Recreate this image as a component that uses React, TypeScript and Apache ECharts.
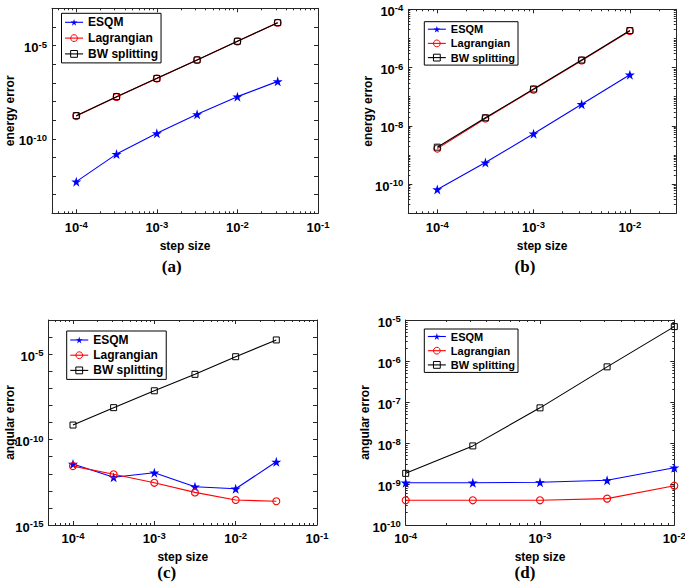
import React, { useEffect, useRef } from 'react';
import * as echarts from 'echarts';

// ---------- data ----------
const stepsAC = [1e-4, 3.16e-4, 1e-3, 3.16e-3, 1e-2, 3.16e-2];
const stepsBD = [1e-4, 3.16e-4, 1e-3, 3.16e-3, 1e-2];

const esqmA = [5.0e-13, 1.5e-11, 1.95e-10, 2.04e-9, 1.82e-8, 1.2e-7];
const lagA = [1.65e-9, 1.75e-8, 1.7e-7, 1.68e-6, 1.68e-5, 1.68e-4];
const bwA = [1.74e-9, 1.82e-8, 1.74e-7, 1.7e-6, 1.7e-5, 1.7e-4];

const esqmB = [6.6e-11, 5.5e-10, 5.4e-9, 5.5e-8, 5.7e-7];
const lagB = [1.66e-9, 1.8e-8, 1.75e-7, 1.75e-6, 1.8e-5];
const bwB = [1.86e-9, 1.9e-8, 1.84e-7, 1.82e-6, 1.86e-5];

const esqmC = [3.7e-12, 6.2e-13, 1.15e-12, 1.74e-13, 1.32e-13, 5.0e-12];
const lagC = [2.8e-12, 9.3e-13, 2.95e-13, 8.1e-14, 2.9e-14, 2.45e-14];
const bwC = [7.1e-10, 7.4e-9, 7.2e-8, 6.6e-7, 7.1e-6, 6.8e-5];

const esqmD = [1.07e-9, 1.07e-9, 1.1e-9, 1.23e-9, 2.5e-9];
const lagD = [4.0e-10, 4.0e-10, 4.0e-10, 4.4e-10, 9.1e-10];
const bwD = [1.82e-9, 8.5e-9, 7.2e-8, 7.2e-7, 6.9e-6];

const seriesNames = ['ESQM', 'Lagrangian', 'BW splitting'];
const xLabelExpA = [-4, -3, -2, -1];
const xLabelExpB = [-4, -3, -2];
const yLabelExpA = [-5, -10];
const yLabelExpB = [-4, -6, -8, -10];
const yLabelExpC = [-5, -10, -15];
const yLabelExpD = [-5, -6, -7, -8, -9, -10];
const panelTags = ['(a)', '(b)', '(c)', '(d)'];

// ---------- helpers ----------
const SANS = '"Liberation Sans", Arial, Helvetica, sans-serif';
const SERIF = '"Liberation Serif", "Times New Roman", serif';
const AX = '#262626';

const p10 = (e: number) => Number(`1e${e}`);
const decades = (lo: number, hi: number) => {
  const out: number[] = [];
  for (let e = Math.ceil(Math.log10(lo) - 1e-9); e <= Math.floor(Math.log10(hi) + 1e-9); e++) out.push(p10(e));
  return out;
};
const minors = (lo: number, hi: number) => {
  const out: number[] = [];
  for (let e = Math.floor(Math.log10(lo)) - 1; e <= Math.ceil(Math.log10(hi)); e++) {
    for (let m = 2; m <= 9; m++) {
      const v = Number(`${m}e${e}`);
      if (v >= lo * (1 - 1e-9) && v <= hi * (1 + 1e-9)) out.push(v);
    }
  }
  return out;
};

const starPath = (() => {
  const pts: string[] = [];
  for (let i = 0; i < 10; i++) {
    const r = i % 2 === 0 ? 50 : 19;
    const a = -Math.PI / 2 + (i * Math.PI) / 5;
    pts.push(`${(50 + r * Math.cos(a)).toFixed(2)},${(50 + r * Math.sin(a)).toFixed(2)}`);
  }
  return 'path://M' + pts.join('L') + 'Z';
})();

const rich = {
  b: { fontSize: 13, fontWeight: 'bold', fontFamily: SANS, color: '#000', lineHeight: 17 },
  s: { fontSize: 9.5, fontWeight: 'bold', fontFamily: SANS, color: '#000', lineHeight: 9, verticalAlign: 'top' },
};
const expFmt = (v: number) => `{b|10}{s|${Math.round(Math.log10(v))}}`;

interface Panel {
  grid: any;
  xMin: number; xMax: number; yMin: number; yMax: number;
  xLab: number[]; yLab: number[];
  yDecadeMajor: boolean; yMinor: boolean;
  steps: number[]; esqm: number[]; lag: number[]; bw: number[];
  yName: string; xNameGap: number; yNameGap: number; xLabelMargin: number;
  legend: any; legendFont: number;
  tag: { x: number; y: number };
}

const panels: Panel[] = [
  {
    grid: { left: 52, top: 8.3, width: 266, height: 205 },
    xMin: 5e-5, xMax: 0.1, yMin: 1e-14, yMax: 1e-3,
    xLab: xLabelExpA.map(p10), yLab: yLabelExpA.map(p10), yDecadeMajor: true, yMinor: false,
    steps: stepsAC, esqm: esqmA, lag: lagA, bw: bwA,
    yName: 'energy error', xNameGap: 27, yNameGap: 36, xLabelMargin: 6,
    legend: { left: 61.5, top: 13.3, padding: [3, 3, 3, 3], itemGap: 3.8 }, legendFont: 12,
    tag: { x: 171.7, y: 266.7 },
  },
  {
    grid: { left: 408.3, top: 9.3, width: 267.5, height: 204 },
    xMin: 5e-5, xMax: 0.03, yMin: 1e-11, yMax: 1e-4,
    xLab: xLabelExpB.map(p10), yLab: yLabelExpB.map(p10), yDecadeMajor: false, yMinor: true,
    steps: stepsBD, esqm: esqmB, lag: lagB, bw: bwB,
    yName: 'energy error', xNameGap: 27, yNameGap: 34, xLabelMargin: 6,
    legend: { left: 424.3, top: 21.7, padding: [2, 3, 2, 3], itemGap: 3.2 }, legendFont: 11,
    tag: { x: 525, y: 266.7 },
  },
  {
    grid: { left: 48.5, top: 320, width: 268.5, height: 205 },
    xMin: 5e-5, xMax: 0.1, yMin: 1e-15, yMax: 1e-3,
    xLab: xLabelExpA.map(p10), yLab: yLabelExpC.map(p10), yDecadeMajor: true, yMinor: false,
    steps: stepsAC, esqm: esqmC, lag: lagC, bw: bwC,
    yName: 'angular error', xNameGap: 26, yNameGap: 33, xLabelMargin: 5,
    legend: { left: 66.7, top: 331, padding: [3, 3, 3, 3], itemGap: 3.2 }, legendFont: 12,
    tag: { x: 166.7, y: 572.7 },
  },
  {
    grid: { left: 405.7, top: 320, width: 268.6, height: 205 },
    xMin: 1e-4, xMax: 1e-2, yMin: 1e-10, yMax: 1e-5,
    xLab: xLabelExpB.map(p10), yLab: yLabelExpD.map(p10), yDecadeMajor: false, yMinor: true,
    steps: stepsBD, esqm: esqmD, lag: lagD, bw: bwD,
    yName: 'angular error', xNameGap: 26, yNameGap: 34.5, xLabelMargin: 5,
    legend: { left: 424.3, top: 329, padding: [2, 3, 2, 3], itemGap: 3.2 }, legendFont: 11,
    tag: { x: 525, y: 572.7 },
  },
];

function buildOption() {
  const grid: any[] = [];
  const xAxis: any[] = [];
  const yAxis: any[] = [];
  const series: any[] = [];
  const legend: any[] = [];
  const graphic: any[] = [];

  panels.forEach((p, i) => {
    grid.push({ ...p.grid, containLabel: false, outerBoundsMode: 'none' });
    const xMajor = decades(p.xMin, p.xMax);
    const xMinor = minors(p.xMin, p.xMax);
    const yAllDec = decades(p.yMin, p.yMax);
    const yMajor = p.yDecadeMajor ? yAllDec : p.yLab;
    const yMinorVals = p.yMinor
      ? [...minors(p.yMin, p.yMax), ...yAllDec.filter((d) => !p.yLab.some((l) => Math.abs(Math.log10(l) - Math.log10(d)) < 1e-6))]
      : [];

    const baseX = { type: 'log', logBase: 10, gridIndex: i, min: p.xMin, max: p.xMax, splitLine: { show: false }, minorTick: { show: false }, minorSplitLine: { show: false } };
    const baseY = { type: 'log', logBase: 10, gridIndex: i, min: p.yMin, max: p.yMax, splitLine: { show: false }, minorTick: { show: false }, minorSplitLine: { show: false } };
    const line = { show: true, onZero: false, lineStyle: { color: AX, width: 1 } };
    const noLine = { show: false };
    const majorTick = (vals: number[]) => ({ show: true, inside: true, length: 4, customValues: vals, lineStyle: { color: AX, width: 1 } });
    const minorTickCfg = (vals: number[]) => ({ show: true, inside: true, length: 2, customValues: vals, lineStyle: { color: AX, width: 1 } });

    xAxis.push({
      ...baseX, position: 'bottom', axisLine: line, axisTick: majorTick(xMajor),
      axisLabel: { show: true, customValues: p.xLab, formatter: expFmt, rich, margin: p.xLabelMargin, color: '#000' },
      name: 'step size', nameLocation: 'middle', nameGap: p.xNameGap, nameMoveOverlap: false,
      nameTextStyle: { fontSize: 12, fontWeight: 'bold', fontFamily: SANS, color: '#000' },
    });
    xAxis.push({ ...baseX, position: 'top', axisLine: line, axisTick: majorTick(xMajor), axisLabel: { show: false } });
    xAxis.push({ ...baseX, position: 'bottom', axisLine: noLine, axisTick: minorTickCfg(xMinor), axisLabel: { show: false } });
    xAxis.push({ ...baseX, position: 'top', axisLine: noLine, axisTick: minorTickCfg(xMinor), axisLabel: { show: false } });

    yAxis.push({
      ...baseY, position: 'left', axisLine: line, axisTick: majorTick(yMajor),
      axisLabel: { show: true, customValues: p.yLab, formatter: expFmt, rich, margin: 5, color: '#000', padding: [4, 0, 0, 0] },
      name: p.yName, nameLocation: 'middle', nameGap: p.yNameGap, nameRotate: 90, nameMoveOverlap: false,
      nameTextStyle: { fontSize: 12, fontWeight: 'bold', fontFamily: SANS, color: '#000' },
    });
    yAxis.push({ ...baseY, position: 'right', axisLine: line, axisTick: majorTick(yMajor), axisLabel: { show: false } });
    if (yMinorVals.length) {
      yAxis.push({ ...baseY, position: 'left', axisLine: noLine, axisTick: minorTickCfg(yMinorVals), axisLabel: { show: false } });
      yAxis.push({ ...baseY, position: 'right', axisLine: noLine, axisTick: minorTickCfg(yMinorVals), axisLabel: { show: false } });
    }

    const xi = i * 4;
    const yi = yAxis.findIndex((a) => a.gridIndex === i);
    const mk = (vals: number[]) => p.steps.map((x, k) => [x, vals[k]]);
    series.push({
      type: 'line', name: seriesNames[0], xAxisIndex: xi, yAxisIndex: yi, data: mk(p.esqm),
      symbol: starPath, symbolSize: 10, lineStyle: { color: '#0000ff', width: 1.1 },
      itemStyle: { color: '#0000ff' }, clip: false, z: 3,
    });
    series.push({
      type: 'line', name: seriesNames[1], xAxisIndex: xi, yAxisIndex: yi, data: mk(p.lag),
      symbol: 'circle', symbolSize: 7, lineStyle: { color: '#ff0000', width: 1.1 },
      itemStyle: { color: 'rgba(255,255,255,0)', borderColor: '#ff0000', borderWidth: 1.1 }, clip: false, z: 4,
    });
    series.push({
      type: 'line', name: seriesNames[2], xAxisIndex: xi, yAxisIndex: yi, data: mk(p.bw),
      symbol: 'rect', symbolSize: 6, lineStyle: { color: '#000000', width: 1.1 },
      itemStyle: { color: 'rgba(255,255,255,0)', borderColor: '#000000', borderWidth: 1 }, clip: false, z: 5,
    });

    legend.push({
      ...p.legend, orient: 'vertical', data: seriesNames, itemWidth: 18, itemHeight: 8.5,
      backgroundColor: '#fff', borderColor: '#000', borderWidth: 1, borderRadius: 0,
      itemStyle: { borderWidth: 1 }, lineStyle: { width: 1.1 },
      textStyle: { fontSize: p.legendFont, fontWeight: 'bold', fontFamily: SANS, color: '#000', lineHeight: p.legendFont },
      selectedMode: false,
    });

    graphic.push({
      type: 'text', x: p.tag.x, y: p.tag.y,
      style: { text: panelTags[i], fontSize: 17, fontWeight: 'bold', fontFamily: SERIF, fill: '#000', align: 'center', verticalAlign: 'middle' },
    });
  });

  return { animation: false, backgroundColor: '#fff', grid, xAxis, yAxis, series, legend, graphic };
}

export default function App() {
  const ref = useRef<HTMLDivElement>(null);
  useEffect(() => {
    if (!ref.current) return;
    const chart = echarts.init(ref.current, null, { renderer: 'svg' });
    chart.setOption(buildOption() as any);
    return () => chart.dispose();
  }, []);
  return <div ref={ref} style={{ position: 'absolute', left: 0, top: 0, width: 685, height: 588 }} />;
}
